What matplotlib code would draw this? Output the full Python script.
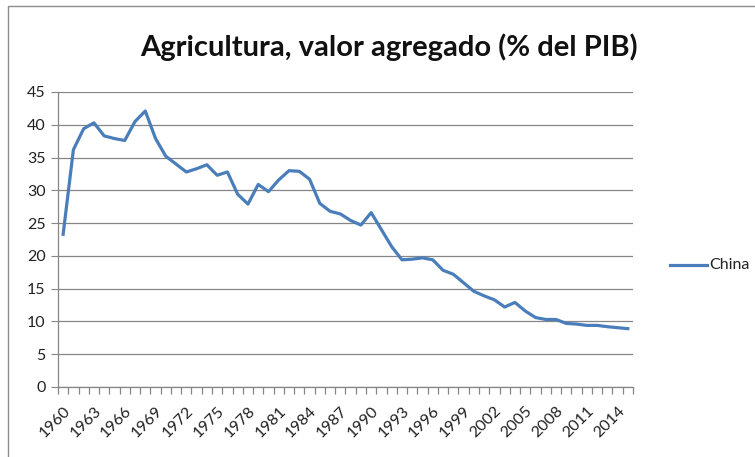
import matplotlib
matplotlib.use("Agg")
import matplotlib.pyplot as plt
from matplotlib.patches import Rectangle
from matplotlib.lines import Line2D

years = list(range(1960, 2016))
china = [23.3, 36.2, 39.4, 40.3, 38.3, 37.9, 37.6, 40.5, 42.1, 37.9,
         35.2, 34.0, 32.8, 33.3, 33.9, 32.3, 32.8, 29.4, 27.9, 30.9,
         29.8, 31.6, 33.0, 32.9, 31.7, 28.0, 26.8, 26.4, 25.4, 24.7,
         26.6, 24.0, 21.4, 19.4, 19.5, 19.7, 19.4, 17.8, 17.2, 15.9,
         14.6, 13.9, 13.3, 12.2, 12.9, 11.6, 10.6, 10.3, 10.3, 9.7,
         9.6, 9.4, 9.4, 9.2, 9.05, 8.9]
yticks = [0, 5, 10, 15, 20, 25, 30, 35, 40, 45]
label_years = list(range(1960, 2016, 3))
title = "Agricultura, valor agregado (% del PIB)"
series_name = "China"

plt.rcParams['font.family'] = ['Lato', 'DejaVu Sans']
W, H = 755, 457
fig = plt.figure(figsize=(W/100, H/100), dpi=100)
fig.patch.set_facecolor('white')

# chart border (cropped)
fig.add_artist(Rectangle((8/W, -0.1), 1.2, 1 - 6/H + 0.1, transform=fig.transFigure,
                         fill=False, edgecolor='#8c8c8c', linewidth=1.0))

ax = fig.add_axes([58/W, 1 - 387/H, (633-58)/W, (387-92)/H])
x = list(range(len(years)))
ax.plot(x, china, color='#4A7EBB', linewidth=2.3, solid_joinstyle='round')
ax.set_xlim(-0.5, len(years) - 0.5)
ax.set_ylim(0, 45)
ax.set_yticks(yticks)
ax.set_yticklabels([str(v) for v in yticks], fontsize=11.5)
ax.yaxis.grid(True, color='#868686', linewidth=0.9)
ax.set_axisbelow(True)
for s in ['top', 'right']:
    ax.spines[s].set_visible(False)
for s in ['left', 'bottom']:
    ax.spines[s].set_color('#868686')
    ax.spines[s].set_linewidth(0.9)
ax.tick_params(axis='y', length=5, color='#868686', pad=4, labelcolor='#222222')

ax.set_xticks([i - 0.5 for i in range(len(years) + 1)], minor=True)
ax.tick_params(axis='x', which='minor', length=5, color='#868686', width=0.9)
ax.set_xticks([years.index(y) for y in label_years])
ax.set_xticklabels([str(y) for y in label_years], rotation=45, ha='right',
                   rotation_mode='anchor', fontsize=11.5, color='#222222')
ax.tick_params(axis='x', which='major', length=0, pad=12)

fig.text(389/W, 1 - 47/H, title, ha='center', va='center', fontsize=21,
         fontweight='bold', color='#111111')

fig.add_artist(Line2D([670/W, 707/W], [1 - 265/H, 1 - 265/H], transform=fig.transFigure,
                      color='#4A7EBB', linewidth=2.3))
fig.text(709/W, 1 - 265/H, series_name, ha='left', va='center', fontsize=11.5, color='#222222')

fig.savefig('out.png', dpi=100)
